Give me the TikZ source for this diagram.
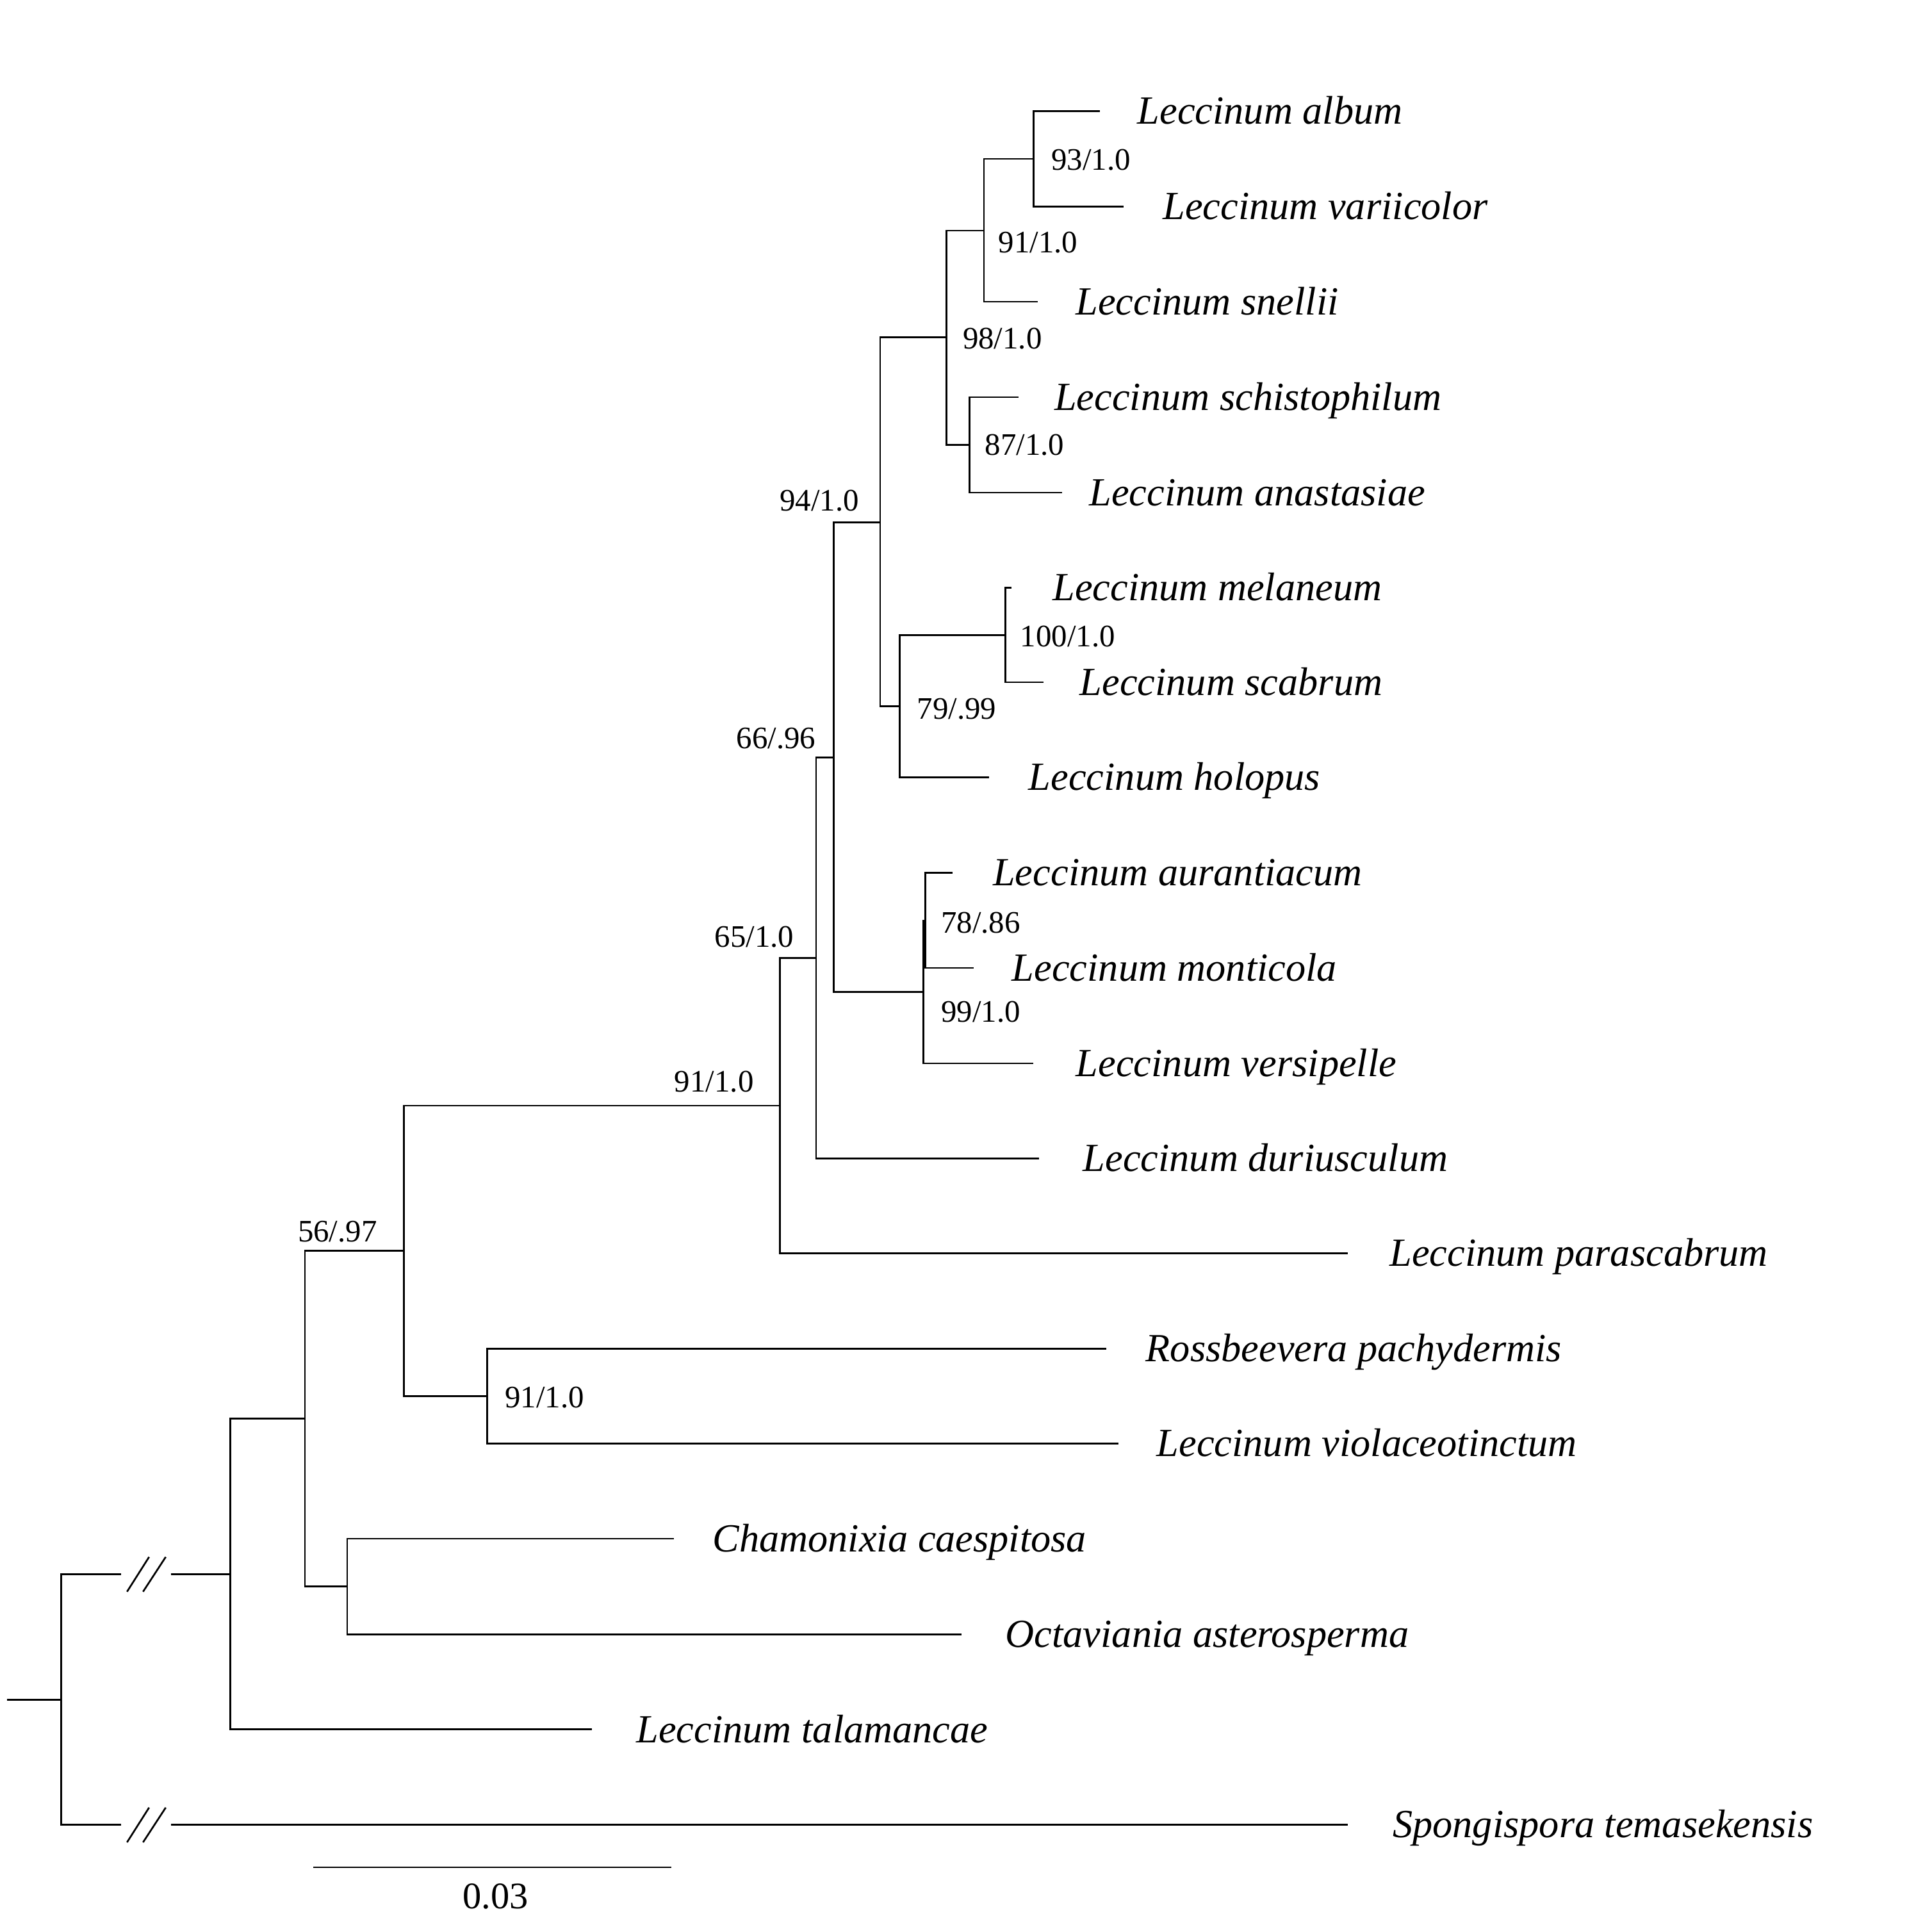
\documentclass[tikz,border=0pt]{standalone}
\usepackage{fontspec}
\setmainfont{Liberation Serif}
\usetikzlibrary{calc}
\tikzset{
  treeline/.style={draw=black, line width=0.7pt, line join=miter},
  taxon/.style={anchor=base west, inner sep=0pt, font=\fontsize{16.2}{18}\selectfont\itshape},
  supp/.style={anchor=base west, inner sep=0pt, font=\fontsize{12.7}{14}\selectfont},
  scalelab/.style={anchor=base, inner sep=0pt, font=\fontsize{15.2}{17}\selectfont},
}
\begin{document}
\begin{tikzpicture}[x=0.5pt, y=-0.5pt]
\useasboundingbox (0,0) rectangle (1568,1568);
% internal nodes (branch points)
\coordinate (rstem) at (5.6,1379.6);
\coordinate (root) at (49.7,1379.6);
\coordinate (A) at (187,1277.5);
\coordinate (B) at (247.5,1151.4);
\coordinate (CH) at (281.8,1287.6);
\coordinate (C) at (327.8,1015.2);
\coordinate (RO) at (395.5,1133.2);
\coordinate (D) at (632.8,897.4);
\coordinate (E) at (662.3,777.5);
\coordinate (F) at (676.5,614.7);
\coordinate (G) at (749.5,805.1);
\coordinate (K) at (750.8,747.0);
\coordinate (J) at (714.3,424.0);
\coordinate (H) at (730.1,573.3);
\coordinate (ME) at (816,515.4);
\coordinate (L98) at (768.3,273.6);
\coordinate (N91) at (798.5,187.2);
\coordinate (N93) at (839,129.0);
\coordinate (N87) at (786.9,361.0);
% break points
\coordinate (brkA1) at (98.3,1277.5);
\coordinate (brkA2) at (138.6,1277.5);
\coordinate (brkS1) at (98.3,1480.9);
\coordinate (brkS2) at (138.6,1480.9);
% leaf tips
\coordinate (t1) at (892.7,90.2);
\coordinate (t2) at (912,167.7);
\coordinate (t3) at (842,244.9);
\coordinate (t4) at (826.6,322.3);
\coordinate (t5) at (862,399.8);
\coordinate (t6) at (821,477);
\coordinate (t7) at (846.7,553.7);
\coordinate (t8) at (802.8,631);
\coordinate (t9) at (773.2,708.4);
\coordinate (t10) at (790.2,785.5);
\coordinate (t11) at (838.6,863);
\coordinate (t12) at (843.3,940.1);
\coordinate (t13) at (1094.1,1017.3);
\coordinate (t14) at (897.6,1094.7);
\coordinate (t15) at (907.6,1171.7);
\coordinate (t16) at (546.9,1248.7);
\coordinate (t17) at (780.3,1326.6);
\coordinate (t18) at (480.5,1403.6);
\coordinate (t19) at (1094.1,1480.9);
% branches
\draw[treeline] (rstem) -- (root);
\draw[treeline] (brkA1) -- (root |- brkA1) -- (root |- brkS1) -- (brkS1);
\draw[treeline] (brkA2) -- (A);
\draw[treeline] (brkS2) -- (t19);
\foreach \b in {brkA1, brkS1}{
  \draw[treeline] ($(\b)+(4.8,14.3)$) -- ($(\b)+(22.7,-13.9)$);
  \draw[treeline] ($(\b)+(17.8,14.3)$) -- ($(\b)+(36.2,-13.9)$);
}
\draw[treeline] (B) -- (A |- B) -- (A |- t18) -- (t18);
\draw[treeline] (C) -- (B |- C) -- (B |- CH) -- (CH);
\draw[treeline] (t16) -- (CH |- t16) -- (CH |- t17) -- (t17);
\draw[treeline] (D) -- (C |- D) -- (C |- RO) -- (RO);
\draw[treeline] (t14) -- (RO |- t14) -- (RO |- t15) -- (t15);
\draw[treeline] (E) -- (D |- E) -- (D |- t13) -- (t13);
\draw[treeline] (F) -- (E |- F) -- (E |- t12) -- (t12);
\draw[treeline] (J) -- (F |- J) -- (F |- G) -- (G);
\draw[treeline] (K) -- (G |- K) -- (G |- t11) -- (t11);
\draw[treeline] (t9) -- (K |- t9) -- (K |- t10) -- (t10);
\draw[treeline] (L98) -- (J |- L98) -- (J |- H) -- (H);
\draw[treeline] (ME) -- (H |- ME) -- (H |- t8) -- (t8);
\draw[treeline] (t6) -- (ME |- t6) -- (ME |- t7) -- (t7);
\draw[treeline] (N91) -- (L98 |- N91) -- (L98 |- N87) -- (N87);
\draw[treeline] (N93) -- (N91 |- N93) -- (N91 |- t3) -- (t3);
\draw[treeline] (t1) -- (N93 |- t1) -- (N93 |- t2) -- (t2);
\draw[treeline] (t4) -- (N87 |- t4) -- (N87 |- t5) -- (t5);
% taxon labels
\node[taxon] (l1) at (922.8,100.7) {Leccinum album};
\node[taxon] (l2) at (943.4,178.2) {Leccinum variicolor};
\node[taxon] (l3) at (872.7,255.4) {Leccinum snellii};
\node[taxon] (l4) at (855.5,332.8) {Leccinum schistophilum};
\node[taxon] (l5) at (883.7,410.3) {Leccinum anastasiae};
\node[taxon] (l6) at (854,487.5) {Leccinum melaneum};
\node[taxon] (l7) at (876,564.2) {Leccinum scabrum};
\node[taxon] (l8) at (834.5,641.5) {Leccinum holopus};
\node[taxon] (l9) at (805.6,718.9) {Leccinum aurantiacum};
\node[taxon] (l10) at (821,796) {Leccinum monticola};
\node[taxon] (l11) at (873,873.5) {Leccinum versipelle};
\node[taxon] (l12) at (878.6,950.6) {Leccinum duriusculum};
\node[taxon] (l13) at (1127.5,1027.8) {Leccinum parascabrum};
\node[taxon] (l14) at (929.6,1105.2) {Rossbeevera pachydermis};
\node[taxon] (l15) at (938.4,1182.2) {Leccinum violaceotinctum};
\node[taxon] (l16) at (578.1,1259.2) {Chamonixia caespitosa};
\node[taxon] (l17) at (815.7,1337.1) {Octaviania asterosperma};
\node[taxon] (l18) at (516.2,1414.1) {Leccinum talamancae};
\node[taxon] (l19) at (1130,1491.4) {Spongispora temasekensis};
% support values
\node[supp] (s93) at (853,138) {93/1.0};
\node[supp] (s91a) at (810,205) {91/1.0};
\node[supp] (s98) at (781,283) {98/1.0};
\node[supp] (s87) at (799,369.5) {87/1.0};
\node[supp] (s94) at (632.5,414.5) {94/1.0};
\node[supp] (s100) at (827.7,525) {100/1.0};
\node[supp] (s79) at (744,583.6) {79/.99};
\node[supp] (s66) at (597.4,607.4) {66/.96};
\node[supp] (s78) at (763.4,757.3) {78/.86};
\node[supp] (s99) at (763.4,829.5) {99/1.0};
\node[supp] (s65) at (579.7,768.6) {65/1.0};
\node[supp] (s91b) at (547,886.4) {91/1.0};
\node[supp] (s56) at (241.4,1008) {56/.97};
\node[supp] (s91c) at (409.5,1142.4) {91/1.0};
% scale bar
\coordinate (sb1) at (254.4,1515.5);
\coordinate (sb2) at (544.6,1515.5);
\draw[treeline] (sb1) -- (sb2);
\node[scalelab] (sbl) at (402.3,1549.2) {0.03};
\end{tikzpicture}
\end{document}
